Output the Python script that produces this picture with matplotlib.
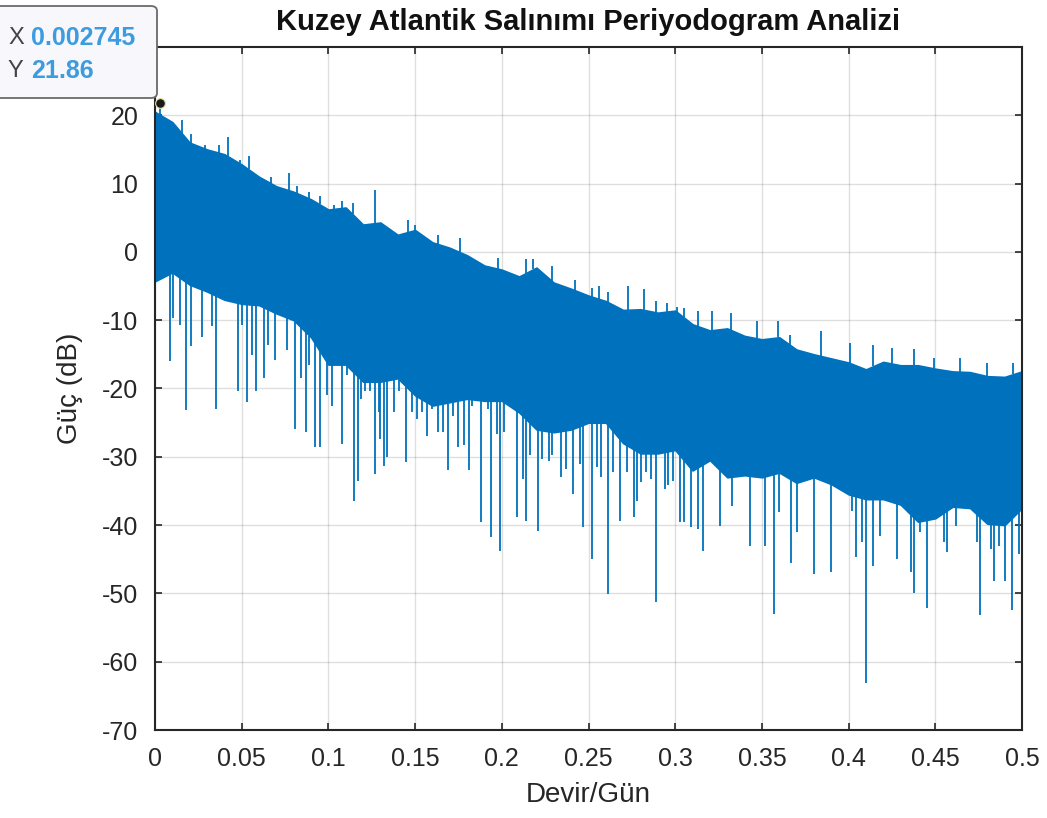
import numpy as np
import matplotlib
matplotlib.use("Agg")
import matplotlib.pyplot as plt
from matplotlib.patches import FancyBboxPatch

plt.rcParams['font.family'] = ['Liberation Sans', 'DejaVu Sans']
plt.rcParams['axes.unicode_minus'] = False

# periodogram band, read every 0.01 cycles/day
freq_grid = np.round(np.arange(0, 0.501, 0.01), 2)
band_top = [20.5, 19.0, 16.0, 15.0, 14.3, 12.8, 11.0, 9.6, 8.8, 7.7,
            6.2, 6.5, 4.0, 4.3, 2.5, 3.2, 1.4, 0.6, -0.5, -2.0,
            -2.6, -3.6, -2.3, -4.5, -5.4, -6.4, -7.2, -8.5, -8.4, -8.9,
            -8.6, -10.6, -11.5, -11.2, -12.3, -12.8, -12.5, -14.3, -15.0, -15.6,
            -16.2, -17.2, -16.1, -16.6, -16.6, -17.1, -17.5, -17.6, -18.2, -18.3,
            -17.5]
band_bottom = [-4.3, -3.0, -4.8, -5.8, -7.0, -7.6, -7.8, -9.0, -10.0, -12.5,
               -16.5, -16.5, -19.0, -19.0, -18.5, -21.0, -22.5, -22.0, -21.5, -21.8,
               -21.8, -23.5, -26.0, -26.4, -26.0, -25.0, -25.0, -28.0, -29.5, -29.5,
               -29.0, -32.0, -30.5, -33.0, -32.7, -33.0, -32.3, -33.8, -33.0, -34.0,
               -35.5, -36.2, -36.2, -37.0, -39.5, -39.0, -37.3, -37.5, -39.8, -40.0,
               -37.5]

# peaks standing above the band
up_freq = [0.002745, 0.0155, 0.021, 0.029, 0.037, 0.042, 0.049, 0.054, 0.059, 0.067,
           0.077, 0.082, 0.089, 0.095, 0.103, 0.108, 0.114, 0.127, 0.146, 0.150,
           0.157, 0.163, 0.176, 0.198, 0.214, 0.218, 0.229, 0.242, 0.252, 0.256,
           0.261, 0.273, 0.282, 0.289, 0.295, 0.301, 0.305, 0.313, 0.321, 0.332,
           0.347, 0.359, 0.366, 0.384, 0.401, 0.414, 0.425, 0.438, 0.449, 0.464,
           0.480, 0.495]
up_db = [21.86, 19.3, 17.2, 15.6, 15.7, 16.8, 13.5, 14.1, 11.2, 10.9,
         11.6, 9.7, 8.7, 8.2, 6.8, 7.5, 7.2, 9.0, 4.7, 4.0,
         1.8, 2.5, 2.1, -0.9, -1.1, -1.0, -2.1, -4.1, -5.3, -5.0,
         -5.8, -5.0, -5.5, -7.2, -7.5, -8.0, -8.2, -8.7, -8.7, -9.0,
         -10.1, -10.1, -12.2, -11.6, -13.4, -13.6, -14.0, -14.2, -15.6, -15.6,
         -16.2, -16.3]

# dips below the band
down_freq = [0.0087, 0.0104, 0.0144, 0.018, 0.021, 0.027, 0.033, 0.035, 0.048, 0.050,
             0.053, 0.056, 0.058, 0.063, 0.065, 0.069, 0.076, 0.081, 0.084, 0.087,
             0.089, 0.092, 0.095, 0.099, 0.102, 0.108, 0.111, 0.115, 0.117, 0.119,
             0.121, 0.124, 0.127, 0.129, 0.130, 0.132, 0.134, 0.138, 0.141, 0.145,
             0.148, 0.151, 0.154, 0.157, 0.160, 0.163, 0.166, 0.169, 0.172, 0.175,
             0.178, 0.181, 0.183, 0.188, 0.192, 0.194, 0.197, 0.199, 0.201, 0.209,
             0.212, 0.214, 0.216, 0.221, 0.223, 0.227, 0.229, 0.234, 0.237, 0.241,
             0.245, 0.247, 0.252, 0.255, 0.257, 0.261, 0.264, 0.268, 0.272, 0.276,
             0.278, 0.280, 0.283, 0.286, 0.289, 0.294, 0.296, 0.299, 0.303, 0.305,
             0.309, 0.313, 0.316, 0.326, 0.333, 0.343, 0.352, 0.357, 0.360, 0.367,
             0.370, 0.380, 0.390, 0.402, 0.404, 0.408, 0.410, 0.414, 0.418, 0.428,
             0.436, 0.438, 0.441, 0.445, 0.455, 0.457, 0.462, 0.474, 0.476, 0.482,
             0.484, 0.487, 0.490, 0.494, 0.498, 0.500]
down_db = [-16.0, -9.7, -10.7, -23.2, -13.8, -12.4, -10.9, -23.0, -20.4, -10.7,
           -22.0, -15.1, -20.4, -18.5, -13.7, -15.9, -14.4, -25.9, -18.5, -26.4,
           -16.6, -28.5, -28.5, -21.0, -22.5, -28.1, -18.0, -36.5, -33.5, -21.5,
           -20.4, -20.4, -32.5, -23.4, -27.4, -31.3, -30.0, -23.4, -20.4, -30.7,
           -23.4, -24.4, -23.5, -26.9, -23.0, -26.4, -26.4, -32.0, -24.0, -28.5,
           -28.3, -31.9, -22.6, -39.6, -23.0, -41.8, -26.6, -43.8, -26.4, -38.8,
           -33.2, -39.4, -29.8, -40.9, -30.3, -30.6, -29.8, -33.0, -31.8, -35.4,
           -31.0, -40.3, -45.0, -31.5, -33.0, -50.1, -32.2, -39.4, -32.2, -38.8,
           -36.5, -33.7, -32.2, -33.2, -51.3, -34.7, -34.2, -33.5, -39.5, -39.6,
           -40.3, -40.6, -43.8, -40.1, -37.2, -43.1, -43.1, -53.0, -38.1, -45.6,
           -41.0, -47.2, -46.8, -38.0, -44.6, -42.5, -63.1, -46.0, -41.6, -45.0,
           -46.8, -49.9, -41.0, -52.1, -42.5, -44.0, -40.1, -42.5, -53.1, -43.5,
           -48.2, -43.1, -48.2, -52.4, -44.3, -61.5]

tip_x = 0.002745
tip_y = 21.86

line_color = '#0072BD'
text_color = '#262626'

fig = plt.figure(figsize=(10.47, 8.18), dpi=100)
ax = fig.add_axes([155 / 1047, 88 / 818, 867 / 1047, 683 / 818])

ax.fill_between(freq_grid, band_bottom, band_top, color=line_color, lw=1.2, edgecolor=line_color)
ax.vlines(up_freq, np.interp(up_freq, freq_grid, band_top), up_db, color=line_color, lw=1.3)
ax.vlines(down_freq, np.interp(down_freq, freq_grid, band_bottom), down_db, color=line_color, lw=1.3)

# selected point of the data tip
ax.plot(tip_x, tip_y, 'o', color='#1a1a1a', ms=7, mec='#e8dfa0', mew=0.8, clip_on=False, zorder=5)

ax.set_xlim(0, 0.5)
ax.set_ylim(-70, 30)
ax.set_xticks(np.arange(0, 0.501, 0.05))
ax.set_xticklabels(['0', '0.05', '0.1', '0.15', '0.2', '0.25', '0.3', '0.35', '0.4', '0.45', '0.5'])
ax.set_yticks(np.arange(-70, 21, 10))
ax.grid(True, color='#262626', alpha=0.15, lw=1.0)
ax.set_axisbelow(True)
ax.tick_params(direction='in', length=5, width=1.2, top=True, right=True,
               labelsize=18, colors=text_color, pad=12)
for s in ax.spines.values():
    s.set_linewidth(1.5)
    s.set_color(text_color)

ax.set_xlabel('Devir/Gün', fontsize=20, color=text_color, labelpad=8)
ax.set_ylabel('Güç (dB)', fontsize=20, color=text_color, labelpad=14)
ax.set_title('Kuzey Atlantik Salınımı Periyodogram Analizi', fontsize=21,
             fontweight='bold', color='#111111', pad=12)

# data tip box in the upper left corner
box = FancyBboxPatch((-12 / 1047, 1 - 98 / 818), 169 / 1047, 92 / 818,
                     boxstyle='round,pad=0,rounding_size=0.006',
                     transform=fig.transFigure, facecolor='#f8f8fc',
                     edgecolor='#6a6a6a', lw=1.3, zorder=10)
fig.add_artist(box)
fig.text(8 / 1047, 1 - 38 / 818, 'X', fontsize=17, color='#444444', va='center', zorder=11)
fig.text(31 / 1047, 1 - 38 / 818, f'{tip_x:.6f}', fontsize=18, color='#3d9be0',
         fontweight='bold', va='center', zorder=11)
fig.text(8 / 1047, 1 - 71 / 818, 'Y', fontsize=17, color='#444444', va='center', zorder=11)
fig.text(31 / 1047, 1 - 71 / 818, f'{tip_y:.2f}', fontsize=18, color='#3d9be0',
         fontweight='bold', va='center', zorder=11)

fig.savefig('out.png', dpi=100)
